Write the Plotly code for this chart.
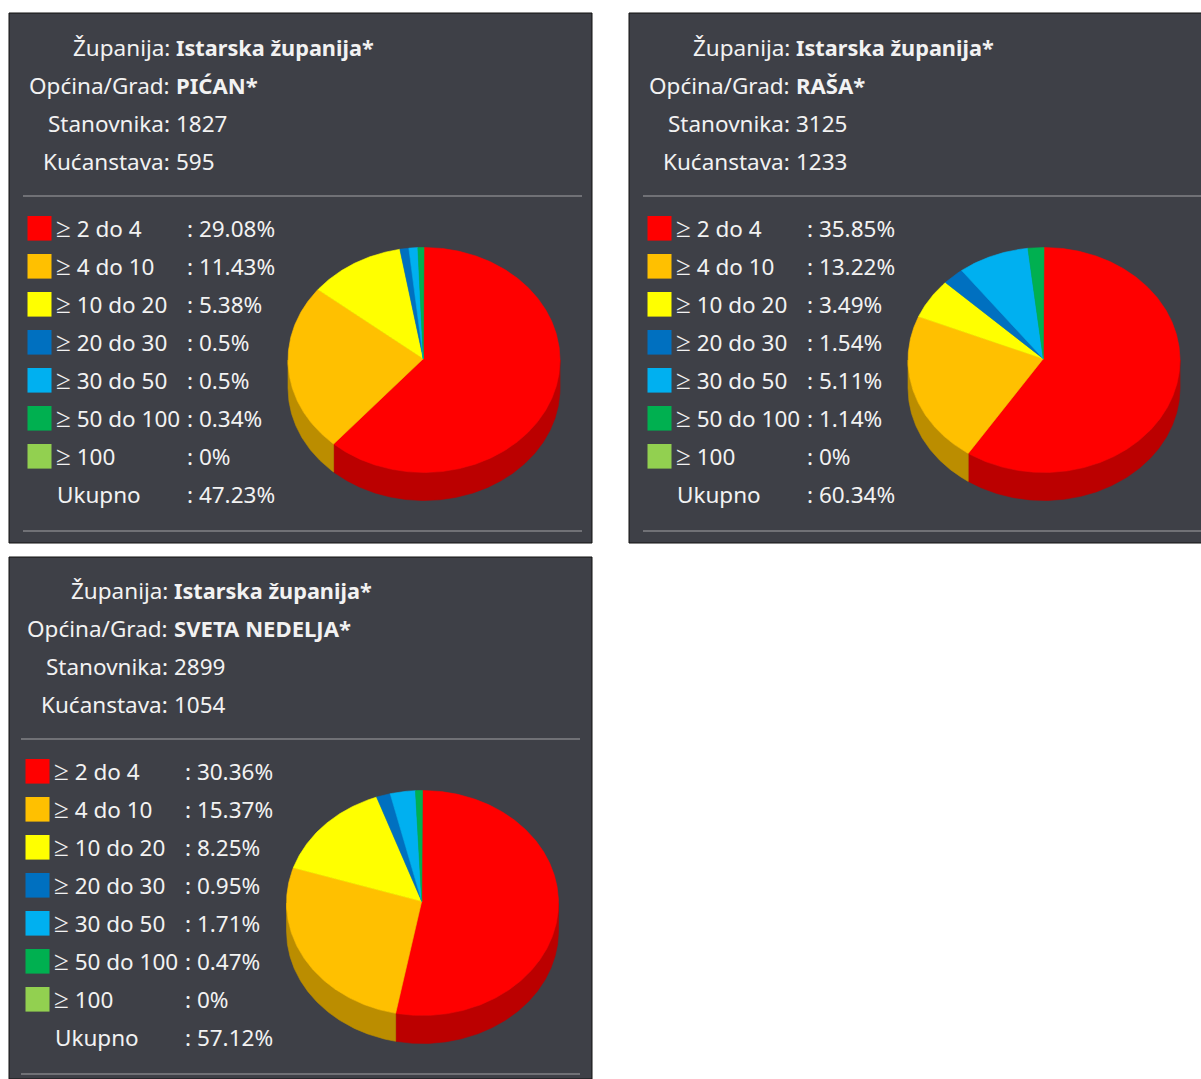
import numpy as np
import plotly.graph_objects as go

categories = ["≥ 2 do 4", "≥ 4 do 10", "≥ 10 do 20", "≥ 20 do 30", "≥ 30 do 50", "≥ 50 do 100", "≥ 100"]
colors = ["#ff0000", "#ffc000", "#ffff00", "#0070c0", "#00b0f0", "#00b050", "#92d050"]
dark = ["#bb0000", "#bb8d00", "#bbbb00", "#005290", "#0082b0", "#00823b", "#6b993b"]

zupanija = "Istarska županija*"
header_labels = ["Županija:", "Općina/Grad:", "Stanovnika:", "Kućanstava:"]

pican = [29.08, 11.43, 5.38, 0.5, 0.5, 0.34, 0]
rasa = [35.85, 13.22, 3.49, 1.54, 5.11, 1.14, 0]
sveta = [30.36, 15.37, 8.25, 0.95, 1.71, 0.47, 0]
totals = ["47.23", "60.34", "57.12"]
names = ["PIĆAN*", "RAŠA*", "SVETA NEDELJA*"]
stanovnika = ["1827", "3125", "2899"]
kucanstava = ["595", "1233", "1054"]
series = [pican, rasa, sveta]

W, H = 1201, 1079
PANEL = "#3e4047"
RULE = "#707176"
TXT = "#f2f2f2"
FONT = "Noto Sans"
FS = 22.5

# panel origin (left, top) for the contents, and the panel rectangle
frames = [(9, 13), (629, 13), (7, 556)]
panel_rect = [(9, 13, 592, 543), (629, 13, 1240, 543), (9, 557, 592, 1079)]
apex_shift = [(-0.7, -1.3), (-0.7, -1.3), (-0.8, -1.7)]

shapes, annos, traces = [], [], []


def text(x, y, s, anchor="left", bold=False, size=FS):
    annos.append(dict(x=x, y=y - 0.7, xref="x", yref="y", text=f"<b>{s}</b>" if bold else s,
                      showarrow=False, xanchor=anchor, yanchor="middle",
                      font=dict(family=FONT, size=size, color=TXT),
                      borderpad=0, borderwidth=0))


def poly(xs, ys, color):
    traces.append(go.Scatter(x=xs, y=ys, mode="lines", fill="toself", fillcolor=color,
                             line=dict(color=color, width=0.6), hoverinfo="skip", showlegend=False))


def arc(cx, cy, rx, ry, a0, a1):
    n = max(2, int(abs(a1 - a0) * 2) + 2)
    t = np.radians(np.linspace(a0, a1, n))
    return cx + rx * np.sin(t), cy - ry * np.cos(t)


for i, vals in enumerate(series):
    ox, oy = frames[i]
    L, T, R, B = panel_rect[i]
    shapes.append(dict(type="rect", xref="x", yref="y", x0=L, x1=R, y0=T, y1=B,
                       fillcolor=PANEL, line=dict(color="#111111", width=1), layer="below"))
    right = min(ox + 573, 1240)
    for yy in (183, 518):
        shapes.append(dict(type="line", xref="x", yref="y", x0=ox + 14, x1=right, y0=oy + yy, y1=oy + yy,
                           line=dict(color=RULE, width=2), layer="below"))

    hx = ox + 160.5
    vx = ox + 167
    vtext = [zupanija, names[i], stanovnika[i], kucanstava[i]]
    bold_sizes = [21.7, 22.1, FS, FS]
    for r, lab in enumerate(header_labels):
        y = oy + 35 + 38 * r
        text(hx, y, lab, anchor="right")
        text(vx, y, vtext[r], bold=r < 2, size=bold_sizes[r])

    for r, cat in enumerate(categories):
        y = oy + 216 + 38 * r
        shapes.append(dict(type="rect", xref="x", yref="y", x0=ox + 18.5, x1=ox + 42.5,
                           y0=y - 13, y1=y + 11.6,
                           fillcolor=colors[r], line=dict(width=0), layer="below"))
        label = cat.replace("≥", '<span style="font-size:27px">≥</span>')
        text(ox + 47, y - 1.4, label)
        text(ox + 178, y, f": {vals[r]:g}%")
    y = oy + 216 + 38 * 7
    text(ox + 48, y, "Ukupno")
    text(ox + 178, y, f": {totals[i]}%")

    cx, cy, rx, ry, depth = ox + 415 + (0.5 if i == 2 else 0), oy + 347, 136, 112.5, 28
    ax, ay = cx + apex_shift[i][0], cy + apex_shift[i][1]
    total = sum(vals)
    a = 0.0
    sides, tops = [], []
    for v, c, d in zip(vals, colors, dark):
        if v <= 0:
            continue
        a1 = a + 360 * v / total
        lo, hi = max(a, 90), min(a1, 270)
        if hi > lo:
            xs, ys = arc(cx, cy, rx, ry, lo, hi)
            sides.append((np.r_[xs, xs[::-1], xs[0]], np.r_[ys, ys[::-1] + depth, ys[0]], d))
        xs, ys = arc(cx, cy, rx, ry, a, a1)
        tops.append((np.r_[ax, xs, ax], np.r_[ay, ys, ay], c))
        a = a1
    for s in sides + tops:
        poly(*s)

fig = go.Figure(traces)
fig.update_layout(width=W, height=H, margin=dict(l=0, r=0, t=0, b=0), paper_bgcolor="white",
                  plot_bgcolor="white", shapes=shapes, annotations=annos, showlegend=False,
                  xaxis=dict(range=[0, W], visible=False, fixedrange=True),
                  yaxis=dict(range=[H, 0], visible=False, fixedrange=True))
fig.write_html("out.html", config=dict(displayModeBar=False),
               post_script="document.body.style.margin='0';document.body.style.overflow='hidden';")
